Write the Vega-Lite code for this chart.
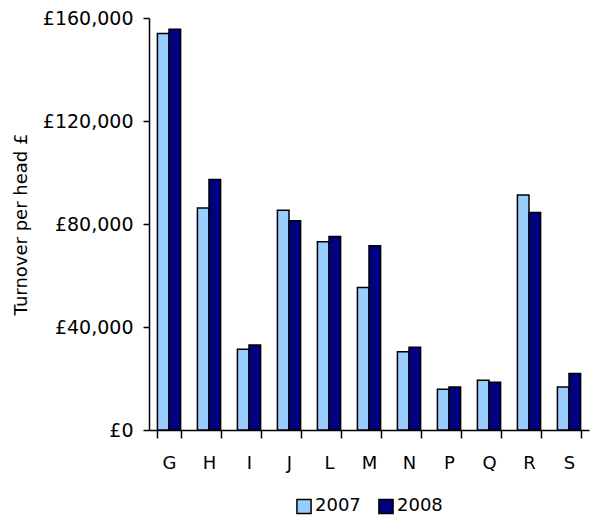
{
  "$schema": "https://vega.github.io/schema/vega-lite/v6.json",
  "autosize": "none",
  "width": 440,
  "height": 412,
  "padding": {"left": 149, "top": 18, "right": 2, "bottom": 86},
  "background": "white",
  "config": {"view": {"stroke": null}, "font": "DejaVu Sans"},
  "data": {"values": [
    {"cat": "G", "year": "2007", "value": 154000},
    {"cat": "G", "year": "2008", "value": 155600},
    {"cat": "H", "year": "2007", "value": 86200},
    {"cat": "H", "year": "2008", "value": 97300},
    {"cat": "I", "year": "2007", "value": 31400},
    {"cat": "I", "year": "2008", "value": 33000},
    {"cat": "J", "year": "2007", "value": 85300},
    {"cat": "J", "year": "2008", "value": 81300},
    {"cat": "L", "year": "2007", "value": 73100},
    {"cat": "L", "year": "2008", "value": 75100},
    {"cat": "M", "year": "2007", "value": 55300},
    {"cat": "M", "year": "2008", "value": 71600},
    {"cat": "N", "year": "2007", "value": 30400},
    {"cat": "N", "year": "2008", "value": 32100},
    {"cat": "P", "year": "2007", "value": 15800},
    {"cat": "P", "year": "2008", "value": 16700},
    {"cat": "Q", "year": "2007", "value": 19300},
    {"cat": "Q", "year": "2008", "value": 18500},
    {"cat": "R", "year": "2007", "value": 91250},
    {"cat": "R", "year": "2008", "value": 84500},
    {"cat": "S", "year": "2007", "value": 16700},
    {"cat": "S", "year": "2008", "value": 21900}
  ]},
  "mark": {"type": "bar", "stroke": "black", "strokeWidth": 1.5},
  "encoding": {
    "x": {
      "field": "cat", "type": "nominal", "sort": null,
      "scale": {"paddingInner": 0.42, "paddingOuter": 0.21},
      "axis": {"title": null, "labelAngle": 0, "labelFontSize": 18, "labelColor": "black", "labelPadding": 16,
               "domainColor": "black", "domainWidth": 1.5, "tickColor": "black", "tickWidth": 1.5, "tickSize": 8, "tickBand": "extent"}
    },
    "xOffset": {"field": "year", "type": "nominal"},
    "y": {
      "field": "value", "type": "quantitative",
      "scale": {"domain": [0, 160000], "nice": false},
      "axis": {"title": "Turnover per head £", "titleFontSize": 18, "titleFontWeight": "normal", "titleColor": "black", "titlePadding": 12,
               "values": [0, 40000, 80000, 120000, 160000],
               "labelExpr": "'£' + format(datum.value, ',')",
               "labelFontSize": 19, "labelColor": "black", "labelPadding": 10, "grid": false,
               "domainColor": "black", "domainWidth": 1.5, "tickColor": "black", "tickWidth": 1.5, "tickSize": 6}
    },
    "color": {
      "field": "year", "type": "nominal",
      "scale": {"domain": ["2007", "2008"], "range": ["#99CCFF", "#000080"]},
      "legend": {"title": null, "orient": "none", "direction": "horizontal", "legendX": 146, "legendY": 479,
                 "symbolType": "square", "symbolSize": 200, "symbolStrokeColor": "black", "symbolStrokeWidth": 1.5,
                 "labelFontSize": 18, "labelColor": "black", "labelOffset": 2, "columnPadding": 14}
    }
  }
}
